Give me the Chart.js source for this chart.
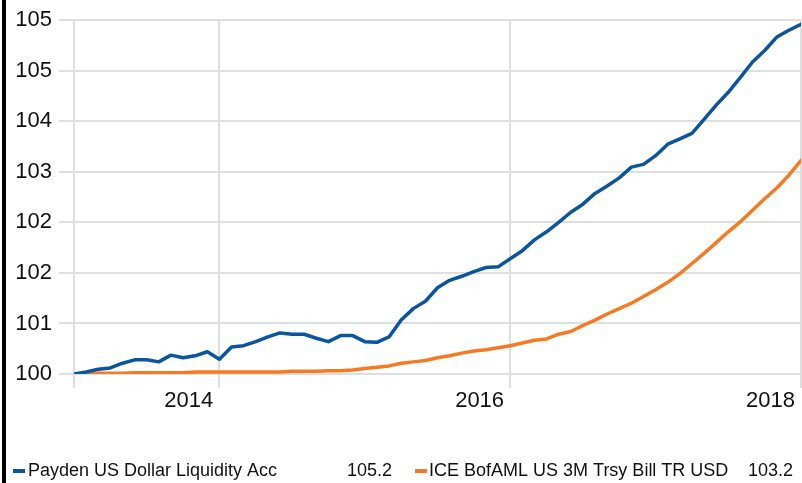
<!DOCTYPE html>
<html>
<head>
<meta charset="utf-8">
<script src="https://cdn.jsdelivr.net/npm/chart.js@4"></script>
<style>
  html, body { margin: 0; padding: 0; background: #fff; }
  #wrap { position: relative; width: 802px; height: 483px; }
</style>
</head>
<body>
<div id="wrap"><canvas id="perfChart"></canvas></div>
<script>
// monthly index values, Jan 2013 .. Jan 2018
const startYear = 2013;
const seriesNames = ['Payden US Dollar Liquidity Acc', 'ICE BofAML US 3M Trsy Bill TR USD'];
const legendValues = ['105.2', '103.2'];
const paydenValues = [
  100.00, 100.03, 100.07, 100.09, 100.16, 100.21, 100.21, 100.18, 100.28, 100.24,
  100.27, 100.33, 100.22, 100.40, 100.42, 100.48, 100.55, 100.61, 100.59, 100.59,
  100.53, 100.48, 100.57, 100.57, 100.48, 100.47, 100.55, 100.80, 100.97, 101.08,
  101.28, 101.39, 101.45, 101.52, 101.58, 101.59, 101.71, 101.83, 101.99, 102.11,
  102.25, 102.40, 102.52, 102.68, 102.79, 102.91, 103.07, 103.11, 103.24, 103.41,
  103.49, 103.57, 103.78, 103.99, 104.18, 104.40, 104.63, 104.80, 105.00, 105.10, 105.19
];
const tbillValues = [
  100.00, 100.00, 100.01, 100.01, 100.01, 100.02, 100.02, 100.02, 100.02, 100.02,
  100.03, 100.03, 100.03, 100.03, 100.03, 100.03, 100.03, 100.03, 100.04, 100.04,
  100.04, 100.05, 100.05, 100.06, 100.08, 100.10, 100.12, 100.16, 100.18, 100.20,
  100.24, 100.27, 100.31, 100.34, 100.36, 100.39, 100.42, 100.46, 100.50, 100.52,
  100.59, 100.63, 100.72, 100.80, 100.89, 100.97, 101.05, 101.15, 101.25, 101.36,
  101.49, 101.64, 101.79, 101.95, 102.11, 102.26, 102.43, 102.60, 102.76, 102.95, 103.17
];
const xTickYears = [2013, 2014, 2016, 2018];
const xTickLabels = ['', '2014', '2016', '2018'];
const yTickLabels = ['100', '101', '102', '102', '103', '104', '105', '105'];

const colors = ['#0a559e', '#f57a22'];
const gridColor = '#dedede';
const font = "'Liberation Sans', Arial, sans-serif";

const toPoints = vals => vals.map((v, i) => ({ x: startYear + i / 12, y: v }));

// left black bar and the legend row with closing values
const extras = {
  id: 'extras',
  afterDraw(chart) {
    const ctx = chart.ctx;
    ctx.save();
    ctx.fillStyle = '#000';
    ctx.fillRect(2, 0, 4, chart.height);

    const y = 471;
    const items = [
      { dash: 13, text: 28, valRight: 392 },
      { dash: 415, text: 429, valRight: 793 }
    ];
    ctx.font = '18px ' + font;
    ctx.textBaseline = 'middle';
    items.forEach((it, i) => {
      ctx.fillStyle = colors[i];
      ctx.fillRect(it.dash, y - 2, 12, 4);
      ctx.fillStyle = '#111';
      ctx.textAlign = 'left';
      ctx.fillText(seriesNames[i], it.text, y);
      ctx.textAlign = 'right';
      ctx.fillText(legendValues[i], it.valRight, y);
    });
    ctx.restore();
  }
};

new Chart(document.getElementById('perfChart'), {
  type: 'line',
  data: {
    datasets: [
      { label: seriesNames[0], data: toPoints(paydenValues), borderColor: colors[0] },
      { label: seriesNames[1], data: toPoints(tbillValues), borderColor: colors[1] }
    ]
  },
  options: {
    responsive: true,
    maintainAspectRatio: false,
    animation: false,
    layout: { padding: { top: 20, right: 1, bottom: 69, left: 0 } },
    elements: {
      line: { borderWidth: 3.5, tension: 0, fill: false, borderJoinStyle: 'round', borderCapStyle: 'round' },
      point: { radius: 0 }
    },
    plugins: {
      legend: { display: false },
      tooltip: { enabled: false }
    },
    scales: {
      x: {
        type: 'linear',
        min: 2013,
        max: 2018,
        afterBuildTicks: axis => { axis.ticks = xTickYears.map(v => ({ value: v })); },
        afterFit: axis => { axis.height = 40; },
        border: { display: false },
        grid: { color: gridColor, lineWidth: 2, tickLength: 14 },
        ticks: {
          autoSkip: false,
          maxRotation: 0,
          align: 'end',
          padding: 0,
          color: '#111',
          font: { family: font, size: 22 },
          callback: (v, i) => xTickLabels[i] ? xTickLabels[i] + ' ' : ''
        }
      },
      y: {
        min: 100,
        max: 105.25,
        afterFit: axis => { axis.width = 74; },
        border: { display: false },
        grid: { color: gridColor, lineWidth: 2, tickLength: 15 },
        ticks: {
          stepSize: 0.75,
          padding: 7,
          color: '#111',
          font: { family: font, size: 22 },
          callback: (v, i) => yTickLabels[i]
        }
      }
    }
  },
  plugins: [extras]
});
</script>
</body>
</html>
